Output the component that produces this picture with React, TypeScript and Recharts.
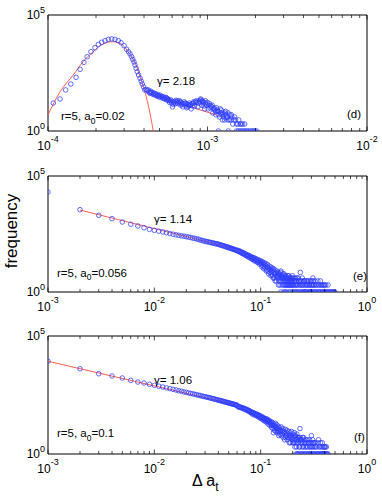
import { ComposedChart, Scatter, Line, XAxis, YAxis, ReferenceArea } from "recharts";

const W = 382;
const FONT = "'Liberation Sans', Arial, Helvetica, sans-serif";
const BLUE = "#2f3dff";
const RED = "#ff4a3a";

// panel (d): r=5, a0=0.02
const dPoints: [number, number][] = [
  [1.08e-4, 16], [1.19e-4, 24], [1.29e-4, 59], [1.39e-4, 106], [1.5e-4, 206], [1.59e-4, 455],
  [1.68e-4, 910], [1.76e-4, 1590], [1.86e-4, 2610], [1.97e-4, 3900], [2.07e-4, 5450], [2.17e-4, 6660],
  [2.28e-4, 7800], [2.39e-4, 8900], [2.51e-4, 9300], [2.63e-4, 8900], [2.76e-4, 7800], [2.87e-4, 6400],
  [3.0e-4, 4750], [3.11e-4, 3330], [3.2e-4, 2600], [3.27e-4, 2090], [3.34e-4, 1600], [3.4e-4, 1230],
  [3.46e-4, 950], [3.51e-4, 700], [3.57e-4, 500], [3.63e-4, 360], [3.7e-4, 260], [3.78e-4, 187],
  [3.84e-4, 140], [3.9e-4, 106], [3.97e-4, 80], [4.05e-4, 59],
  [4.12e-4, 62], [4.2e-4, 55], [4.25e-4, 59], [4.3e-4, 48], [4.36e-4, 42], [4.42e-4, 52], [4.47e-4, 45],
  [4.55e-4, 38], [4.62e-4, 41], [4.69e-4, 35], [4.78e-4, 37], [4.85e-4, 31], [4.92e-4, 34], [4.99e-4, 30],
  [5.08e-4, 28], [5.16e-4, 32], [5.24e-4, 26], [5.32e-4, 29], [5.4e-4, 24], [5.48e-4, 27], [5.55e-4, 22],
  [5.62e-4, 25], [5.7e-4, 21], [5.78e-4, 17], [5.87e-4, 22], [5.96e-4, 16], [6.03e-4, 11], [6.1e-4, 14],
  [6.2e-4, 19], [6.3e-4, 15], [6.41e-4, 18], [6.5e-4, 20], [6.6e-4, 17], [6.7e-4, 20], [6.8e-4, 13],
  [6.89e-4, 16], [7.0e-4, 11], [7.1e-4, 15], [7.23e-4, 16], [7.32e-4, 12], [7.4e-4, 10], [7.5e-4, 14],
  [7.62e-4, 13], [7.76e-4, 13], [7.9e-4, 9], [8.0e-4, 15], [8.14e-4, 16], [8.3e-4, 12], [8.42e-4, 18],
  [8.55e-4, 17], [8.7e-4, 11], [8.85e-4, 20], [8.97e-4, 18], [9.1e-4, 22], [9.2e-4, 13], [9.3e-4, 19],
  [9.4e-4, 16], [9.5e-4, 12], [9.6e-4, 9], [9.75e-4, 15], [9.9e-4, 13], [1.0e-3, 17], [1.01e-3, 9],
  [1.03e-3, 15], [1.05e-3, 12], [1.06e-3, 11], [1.08e-3, 6], [1.1e-3, 10], [1.11e-3, 8], [1.13e-3, 5],
  [1.14e-3, 10], [1.16e-3, 7], [1.17e-3, 7], [1.19e-3, 4], [1.21e-3, 6], [1.22e-3, 8], [1.24e-3, 3],
  [1.25e-3, 6], [1.27e-3, 5], [1.28e-3, 3], [1.3e-3, 7], [1.32e-3, 4], [1.34e-3, 3], [1.35e-3, 6],
  [1.38e-3, 5], [1.4e-3, 3], [1.42e-3, 4], [1.44e-3, 2], [1.48e-3, 4], [1.5e-3, 3], [1.52e-3, 2],
  [1.57e-3, 3], [1.6e-3, 2], [1.63e-3, 2], [1.71e-3, 2],
  [4.4e-4, 47], [4.6e-4, 44], [4.75e-4, 40], [4.9e-4, 33], [5.0e-4, 36], [5.2e-4, 30], [5.35e-4, 25],
  [5.5e-4, 28], [5.65e-4, 23], [5.8e-4, 20], [6.0e-4, 19], [6.15e-4, 17], [6.35e-4, 21], [6.55e-4, 15],
  [6.75e-4, 18], [6.95e-4, 14], [7.15e-4, 18], [7.35e-4, 15], [7.55e-4, 11], [7.7e-4, 16], [7.85e-4, 14],
  [8.05e-4, 12], [8.2e-4, 18], [8.5e-4, 20], [8.8e-4, 16], [9.05e-4, 24], [9.25e-4, 20], [9.45e-4, 18],
  [9.7e-4, 20], [1.02e-3, 13], [1.04e-3, 10], [1.07e-3, 13], [1.09e-3, 9], [1.12e-3, 7], [1.15e-3, 8],
  [1.18e-3, 5], [1.2e-3, 9], [1.23e-3, 5], [1.26e-3, 4], [1.29e-3, 6], [1.31e-3, 5], [1.33e-3, 4],
  [1.37e-3, 3], [1.41e-3, 5], [1.46e-3, 3], [1.55e-3, 2], [1.66e-3, 2],
  [1.17e-3, 1], [1.35e-3, 1], [1.52e-3, 1], [1.56e-3, 1], [1.6e-3, 1], [1.64e-3, 1], [1.68e-3, 1],
  [1.72e-3, 1], [1.76e-3, 1], [1.8e-3, 1], [1.85e-3, 1], [1.9e-3, 1], [1.94e-3, 1], [1.98e-3, 1], [2.03e-3, 1],
];
const dFitPeak: [number, number][] = [
  [1e-4, 4.9], [1.19e-4, 49], [1.44e-4, 260], [1.66e-4, 970], [1.92e-4, 2620], [2.22e-4, 5620],
  [2.51e-4, 7080], [2.83e-4, 6030], [3.18e-4, 2620], [3.6e-4, 590], [3.87e-4, 133], [4.05e-4, 49],
  [4.36e-4, 5.8], [4.57e-4, 1],
];
const dFitTail: [number, number][] = [[4.16e-4, 42], [1.14e-3, 4.9]];
const dDecades = [1e-4, 1e-3, 1e-2];

// panel (e): r=5, a0=0.056
const ePoints: [number, number][] = [
  [0.001, 20400], [0.002, 3530], [0.003, 2020], [0.004, 1450], [0.005, 1040], [0.006, 830], [0.007, 700],
  [0.008, 590], [0.009, 500], [0.01, 455], [0.011, 420], [0.012, 390], [0.013, 360], [0.014, 330],
  [0.015, 310], [0.016, 290], [0.017, 278], [0.018, 262], [0.019, 255], [0.02, 242], [0.021, 232],
  [0.022, 224], [0.023, 210], [0.024, 205], [0.025, 193], [0.026, 188], [0.027, 172], [0.028, 170],
  [0.029, 158], [0.03, 156], [0.031, 148], [0.032, 146], [0.033, 138], [0.034, 137], [0.035, 130],
  [0.036, 129], [0.037, 123], [0.038, 122], [0.039, 116], [0.04, 116], [0.041, 109], [0.042, 108],
  [0.043, 102], [0.044, 101], [0.045, 95], [0.046, 95], [0.047, 89], [0.048, 89], [0.049, 84], [0.05, 84],
  [0.051, 78], [0.052, 79], [0.053, 74], [0.054, 74], [0.055, 70], [0.056, 70], [0.057, 66], [0.058, 66],
  [0.059, 62], [0.06, 63],
  [0.061, 58], [0.062, 61], [0.063, 54], [0.064, 57], [0.065, 50], [0.066, 53], [0.067, 46], [0.068, 50],
  [0.069, 43], [0.07, 47], [0.071, 40], [0.072, 44], [0.073, 37], [0.074, 41], [0.075, 35], [0.076, 39],
  [0.077, 32], [0.078, 37], [0.079, 30], [0.08, 34], [0.082, 28], [0.084, 31], [0.086, 25], [0.088, 29],
  [0.09, 22], [0.092, 26], [0.094, 20], [0.096, 24], [0.098, 18], [0.1, 22], [0.102, 15], [0.104, 20],
  [0.106, 13], [0.108, 18], [0.11, 11], [0.112, 17], [0.114, 9], [0.116, 15], [0.118, 8], [0.12, 13],
  [0.122, 7], [0.124, 12], [0.126, 6], [0.128, 11], [0.13, 5], [0.132, 10], [0.134, 4], [0.136, 9],
  [0.138, 6], [0.14, 3], [0.142, 8], [0.144, 5], [0.146, 7], [0.148, 3], [0.15, 6], [0.152, 2],
  [0.155, 8], [0.158, 4], [0.16, 5], [0.163, 3], [0.166, 6], [0.169, 2], [0.172, 5], [0.175, 3],
  [0.178, 4], [0.181, 2], [0.184, 5], [0.187, 3], [0.19, 4], [0.193, 2], [0.196, 3], [0.199, 5],
  [0.202, 2], [0.205, 4], [0.208, 3], [0.211, 1], [0.214, 3], [0.217, 2], [0.22, 4], [0.224, 1],
  [0.228, 3], [0.232, 2], [0.236, 7], [0.24, 1], [0.244, 3], [0.248, 2], [0.252, 1], [0.256, 3],
  [0.26, 2], [0.265, 1], [0.27, 2], [0.275, 3], [0.28, 1], [0.285, 2], [0.29, 1], [0.295, 3], [0.3, 2],
  [0.305, 1], [0.31, 4], [0.315, 2], [0.32, 1], [0.33, 2], [0.34, 1], [0.35, 2], [0.36, 1], [0.37, 2],
  [0.38, 1], [0.39, 1], [0.4, 2], [0.42, 1], [0.44, 1], [0.46, 1], [0.48, 1], [0.5, 1],
  [0.081, 33], [0.083, 26], [0.085, 30], [0.087, 22], [0.089, 27], [0.091, 24], [0.093, 19], [0.095, 22],
  [0.097, 16], [0.099, 20], [0.101, 19], [0.103, 12], [0.105, 17], [0.107, 10], [0.109, 15], [0.111, 14],
  [0.113, 8], [0.115, 12], [0.117, 11], [0.119, 6], [0.121, 10], [0.123, 9], [0.125, 5], [0.127, 8],
  [0.129, 9], [0.131, 4], [0.133, 7], [0.135, 6], [0.137, 3], [0.139, 7], [0.141, 5], [0.143, 4],
  [0.145, 6], [0.147, 2], [0.149, 5], [0.151, 4], [0.153, 3], [0.154, 7], [0.156, 3], [0.157, 5],
  [0.159, 2], [0.161, 4], [0.162, 6], [0.164, 2], [0.165, 4], [0.167, 3], [0.168, 5], [0.17, 2],
  [0.171, 4], [0.173, 3], [0.174, 2], [0.176, 4], [0.177, 2], [0.179, 3], [0.18, 5], [0.182, 2],
  [0.183, 3], [0.185, 4], [0.186, 2], [0.188, 3], [0.189, 2], [0.191, 3], [0.192, 4], [0.194, 2],
  [0.195, 3], [0.197, 2], [0.198, 4], [0.201, 3], [0.204, 2], [0.206, 3], [0.209, 2], [0.212, 4],
  [0.215, 2], [0.218, 3], [0.222, 2], [0.226, 4], [0.23, 3], [0.234, 2], [0.238, 3], [0.242, 2],
  [0.246, 4], [0.25, 2], [0.254, 3], [0.258, 1], [0.262, 3], [0.267, 2], [0.272, 3], [0.277, 2],
  [0.282, 3], [0.288, 2], [0.293, 1], [0.298, 2], [0.303, 3], [0.308, 2], [0.313, 3], [0.318, 2],
  [0.325, 3], [0.335, 2], [0.345, 3], [0.355, 2], [0.365, 3], [0.375, 2], [0.385, 2], [0.395, 2],
  [0.41, 2], [0.43, 2],
  [0.155, 1], [0.165, 1], [0.17, 1], [0.175, 1], [0.185, 1], [0.19, 1], [0.2, 1], [0.21, 1], [0.22, 1],
  [0.23, 1], [0.245, 1], [0.26, 1], [0.27, 1], [0.29, 1], [0.3, 1], [0.32, 1], [0.33, 1], [0.35, 1],
  [0.36, 1], [0.38, 1], [0.4, 1], [0.41, 1], [0.43, 1], [0.45, 1], [0.47, 1], [0.49, 1],
];
const eFit: [number, number][] = [[0.002, 3400], [0.06, 70]];
const eDecades = [1e-3, 1e-2, 1e-1, 1];

// panel (f): r=5, a0=0.1
const fPoints: [number, number][] = [
  [0.001, 8500], [0.002, 4100], [0.003, 2520], [0.004, 2020], [0.005, 1660], [0.006, 1320], [0.007, 1120],
  [0.008, 1020], [0.009, 900], [0.01, 815], [0.011, 745], [0.012, 690], [0.013, 630], [0.014, 590],
  [0.015, 550], [0.016, 515], [0.017, 480], [0.018, 455], [0.019, 428], [0.02, 405], [0.021, 388],
  [0.022, 368], [0.023, 352], [0.024, 338], [0.025, 322], [0.026, 310], [0.027, 300], [0.028, 287],
  [0.029, 276], [0.03, 268], [0.031, 258], [0.032, 250], [0.033, 242], [0.034, 233], [0.035, 226],
  [0.036, 218], [0.037, 211], [0.038, 205], [0.039, 198], [0.04, 192], [0.041, 186], [0.042, 182],
  [0.043, 176], [0.044, 172], [0.045, 167], [0.046, 162], [0.047, 158], [0.048, 154], [0.049, 150],
  [0.05, 147], [0.051, 143], [0.052, 140], [0.053, 136], [0.054, 133], [0.055, 130], [0.056, 127],
  [0.057, 125], [0.058, 122], [0.059, 119], [0.06, 116],
  [0.061, 104], [0.062, 98], [0.063, 101], [0.064, 94], [0.065, 97], [0.066, 90], [0.067, 92], [0.068, 85],
  [0.069, 88], [0.07, 80], [0.071, 84], [0.072, 76], [0.073, 79], [0.074, 72], [0.075, 75], [0.076, 68],
  [0.077, 71], [0.078, 63], [0.079, 67], [0.08, 59], [0.082, 61], [0.084, 54], [0.086, 56], [0.088, 49],
  [0.09, 51], [0.092, 44], [0.094, 47], [0.096, 40], [0.098, 43], [0.1, 36], [0.102, 39], [0.104, 33],
  [0.106, 35], [0.108, 30], [0.11, 32], [0.112, 27], [0.114, 31], [0.116, 24], [0.118, 28], [0.12, 22],
  [0.122, 25], [0.124, 19], [0.126, 23], [0.128, 16], [0.13, 21], [0.132, 8], [0.134, 18], [0.136, 14],
  [0.138, 20], [0.14, 12], [0.142, 17], [0.144, 10], [0.146, 15], [0.148, 6], [0.15, 13], [0.153, 9],
  [0.156, 14], [0.159, 7], [0.162, 12], [0.165, 8], [0.168, 4], [0.171, 11], [0.174, 6], [0.177, 10],
  [0.18, 5], [0.183, 9], [0.186, 3], [0.189, 8], [0.192, 5], [0.195, 9], [0.198, 4], [0.201, 7],
  [0.204, 3], [0.207, 8], [0.21, 2], [0.213, 6], [0.216, 4], [0.219, 7], [0.222, 3], [0.225, 1],
  [0.228, 5], [0.231, 2], [0.234, 12], [0.237, 4], [0.24, 3], [0.244, 1], [0.248, 5], [0.252, 2],
  [0.256, 4], [0.26, 1], [0.265, 3], [0.27, 2], [0.275, 4], [0.28, 1], [0.285, 3], [0.29, 2], [0.295, 1],
  [0.3, 6], [0.305, 3], [0.31, 2], [0.315, 1], [0.32, 3], [0.33, 2], [0.34, 1], [0.35, 4], [0.36, 2],
  [0.37, 1], [0.38, 3], [0.39, 1], [0.4, 2], [0.41, 1], [0.42, 1], [0.43, 1],
  [0.081, 58], [0.083, 50], [0.085, 55], [0.087, 45], [0.089, 49], [0.091, 42], [0.093, 46], [0.095, 37],
  [0.097, 41], [0.099, 33], [0.101, 37], [0.103, 30], [0.105, 34], [0.107, 26], [0.109, 30], [0.111, 24],
  [0.113, 28], [0.115, 21], [0.117, 25], [0.119, 18], [0.121, 23], [0.123, 16], [0.125, 20], [0.127, 13],
  [0.129, 18], [0.131, 12], [0.133, 16], [0.135, 10], [0.137, 15], [0.139, 9], [0.141, 13], [0.143, 8],
  [0.145, 12], [0.147, 9], [0.149, 11], [0.151, 7], [0.154, 10], [0.157, 6], [0.16, 10], [0.163, 5],
  [0.166, 9], [0.169, 7], [0.172, 5], [0.175, 8], [0.178, 4], [0.181, 7], [0.184, 5], [0.187, 6],
  [0.19, 3], [0.193, 6], [0.196, 5], [0.199, 3], [0.202, 5], [0.205, 4], [0.208, 6], [0.211, 3],
  [0.214, 5], [0.217, 2], [0.22, 4], [0.223, 5], [0.226, 3], [0.229, 4], [0.232, 2], [0.235, 5],
  [0.238, 3], [0.242, 4], [0.246, 2], [0.25, 3], [0.254, 5], [0.258, 3], [0.262, 2], [0.267, 4],
  [0.272, 3], [0.277, 2], [0.282, 3], [0.288, 4], [0.293, 2], [0.298, 3], [0.303, 2], [0.308, 4],
  [0.313, 3], [0.318, 2], [0.325, 3], [0.335, 2], [0.345, 3], [0.355, 2], [0.365, 3], [0.375, 2],
  [0.385, 2], [0.395, 2], [0.405, 2], [0.415, 2],
  [0.215, 1], [0.22, 1], [0.23, 1], [0.24, 1], [0.25, 1], [0.26, 1], [0.27, 1], [0.28, 1], [0.29, 1],
  [0.3, 1], [0.31, 1], [0.32, 1], [0.33, 1], [0.34, 1], [0.35, 1], [0.36, 1], [0.37, 1], [0.38, 1],
  [0.39, 1], [0.4, 1], [0.42, 1],
];
const fFit: [number, number][] = [[0.001, 8500], [0.058, 123]];
const fDecades = [1e-3, 1e-2, 1e-1, 1];

const yTicks = [1, 1e5];
const tags = ["(d)", "(e)", "(f)"];
const gammas = ["2.18", "1.14", "1.06"];
const a0s = ["0.02", "0.056", "0.1"];

const toXY = (a: [number, number][]) => a.map(([x, y]) => ({ x, y }));

const logTicks = (decades: number[]) => {
  const t: number[] = [];
  decades.forEach((d, i) => {
    t.push(d);
    if (i < decades.length - 1) for (let m = 2; m <= 9; m++) t.push(m * d);
  });
  return t;
};

const Ring = (p: any) => (
  <circle cx={p.cx} cy={p.cy} r={2.3} fill="none" stroke={BLUE} strokeWidth={0.75} />
);

const XTick = (p: any) => {
  const { x, y, payload, decades, plotH } = p;
  const v = payload.value;
  const major = decades.includes(v);
  const len = major ? 4.5 : 3;
  return (
    <g>
      <line x1={x} x2={x} y1={y} y2={y - len} stroke="#000" strokeWidth={0.7} />
      <line x1={x} x2={x} y1={y - plotH} y2={y - plotH + len} stroke="#000" strokeWidth={0.7} />
      {major && (
        <text x={x} y={y + 19} textAnchor="middle" fontSize={12} fontFamily={FONT} fill="#000">
          <tspan>10</tspan>
          <tspan dy={-8} fontSize={9}>{Math.round(Math.log10(v))}</tspan>
        </text>
      )}
    </g>
  );
};

const YTick = (p: any) => {
  const { x, y, payload } = p;
  return (
    <text x={x - 3} y={y + 4.3} textAnchor="end" fontSize={12} fontFamily={FONT} fill="#000">
      <tspan>10</tspan>
      <tspan dy={-6} fontSize={9}>{Math.round(Math.log10(payload.value))}</tspan>
    </text>
  );
};

type PanelProps = {
  top: number;
  height: number;
  plotTop: number;
  plotBottom: number;
  points: [number, number][];
  fits: [number, number][][];
  fitType: "monotone" | "linear";
  decades: number[];
};

const Panel = ({ top, height, plotTop, plotBottom, points, fits, fitType, decades }: PanelProps) => {
  const plotH = plotBottom - plotTop;
  const x0 = decades[0];
  const x1 = decades[decades.length - 1];
  return (
    <div style={{ position: "absolute", left: 0, top }}>
      <ComposedChart width={W} height={height} margin={{ top: plotTop, right: 15, bottom: 0, left: 0 }}>
        <XAxis
          dataKey="x"
          type="number"
          scale="log"
          domain={[x0, x1]}
          allowDataOverflow
          ticks={logTicks(decades)}
          interval={0}
          tickSize={0}
          tickMargin={0}
          axisLine={false}
          tickLine={false}
          height={height - plotBottom}
          tick={(p: any) => <XTick {...p} decades={decades} plotH={plotH} />}
        />
        <YAxis
          dataKey="y"
          type="number"
          scale="log"
          domain={[1, 1e5]}
          allowDataOverflow
          ticks={yTicks}
          interval={0}
          width={48}
          tickSize={0}
          tickMargin={0}
          axisLine={false}
          tickLine={false}
          tick={(p: any) => <YTick {...p} />}
        />
        <ReferenceArea x1={x0} x2={x1} y1={1} y2={1e5} fill="none" fillOpacity={0} stroke="#000" strokeWidth={1} ifOverflow="visible" />
        <Scatter data={toXY(points)} dataKey="y" shape={Ring} isAnimationActive={false} />
        {fits.map((f, i) => (
          <Line
            key={i}
            data={toXY(f)}
            dataKey="y"
            type={fitType}
            stroke={RED}
            strokeWidth={0.9}
            dot={false}
            activeDot={false}
            isAnimationActive={false}
          />
        ))}
      </ComposedChart>
    </div>
  );
};

const Note = ({ x, y, children }: any) => (
  <text x={x} y={y} fontSize={11.5} fontFamily={FONT} fill="#000">
    {children}
  </text>
);

const Params = ({ x, y, a0 }: any) => (
  <text x={x} y={y} fontSize={11.5} fontFamily={FONT} fill="#000">
    <tspan>r=5, a</tspan>
    <tspan dy={3.5} fontSize={8.5}>0</tspan>
    <tspan dy={-3.5}>={a0}</tspan>
  </text>
);

export default function App() {
  return (
    <div style={{ position: "fixed", left: 0, top: 0, width: W, height: 498, background: "#fff", overflow: "hidden" }}>
      <Panel top={0} height={160} plotTop={15} plotBottom={131} points={dPoints} fits={[dFitPeak, dFitTail]} fitType="monotone" decades={dDecades} />
      <Panel top={160} height={160} plotTop={16} plotBottom={132} points={ePoints} fits={[eFit]} fitType="linear" decades={eDecades} />
      <Panel top={320} height={178} plotTop={16} plotBottom={134} points={fPoints} fits={[fFit]} fitType="linear" decades={fDecades} />
      <svg width={W} height={498} style={{ position: "absolute", left: 0, top: 0, pointerEvents: "none" }}>
        <Note x={157} y={85}>γ= {gammas[0]}</Note>
        <Params x={61} y={120} a0={a0s[0]} />
        <Note x={347} y={118}>{tags[0]}</Note>

        <Note x={154} y={223}>γ= {gammas[1]}</Note>
        <Params x={57} y={276.5} a0={a0s[1]} />
        <Note x={353} y={280}>{tags[1]}</Note>

        <Note x={154} y={383.5}>γ= {gammas[2]}</Note>
        <Params x={57} y={437} a0={a0s[2]} />
        <Note x={354} y={441}>{tags[2]}</Note>

        <text x={17} y={231} transform="rotate(-90 17 231)" textAnchor="middle" fontSize={17} fontFamily={FONT} fill="#000">
          frequency
        </text>
        <text x={192} y={485.5} fontSize={16} fontFamily={FONT} fill="#000">
          <tspan>Δ a</tspan>
          <tspan dy={5} fontSize={12}>t</tspan>
        </text>
      </svg>
    </div>
  );
}
